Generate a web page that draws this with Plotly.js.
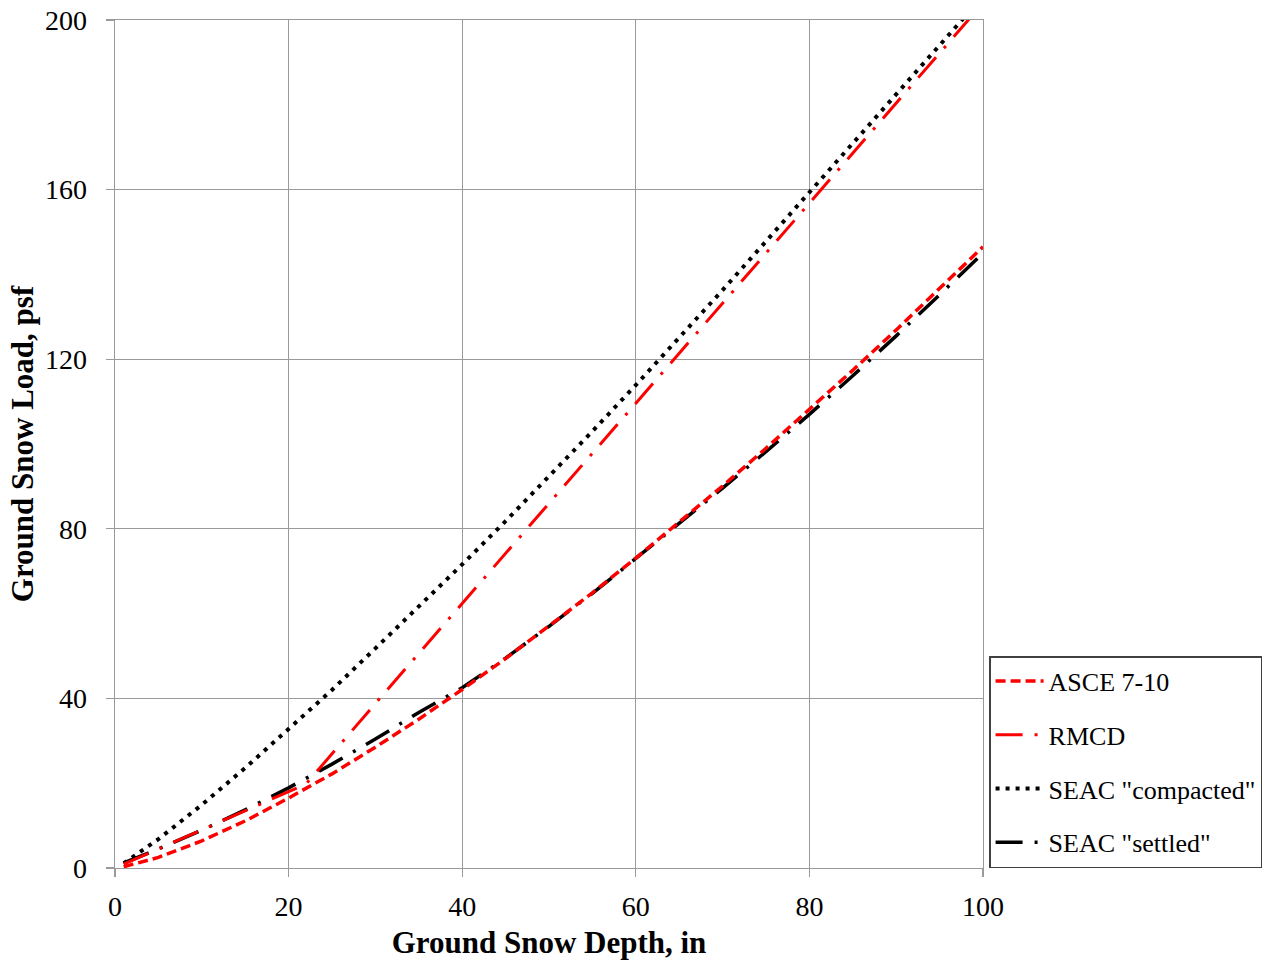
<!DOCTYPE html>
<html>
<head>
<meta charset="utf-8">
<script src="https://cdn.plot.ly/plotly-3.0.1.min.js"></script>
<style>html,body{margin:0;padding:0;background:#fff;}#chart{width:1262px;height:960px;}</style>
</head>
<body>
<div id="chart"></div>
<script>
// Ground snow depth (in) vs ground snow load (psf)
const asceDepth = [1, 5, 10, 15, 20, 25, 30, 35, 40, 45, 50, 55, 60, 65, 70, 75, 80, 85, 90, 95, 100];
const asceLoad  = [0.3, 2.5, 6.4, 11.1, 16.5, 22.2, 28.5, 35.1, 42.1, 49.4, 57.1, 64.9, 73.1, 81.5, 90.1, 99.0, 108.1, 117.4, 126.9, 136.6, 146.5];

const rmcdDepth = [1, 10, 22, 30, 40, 50, 60, 70, 80, 90, 100];
const rmcdLoad  = [0.9, 9.0, 19.8, 38.8, 62.4, 86.0, 109.6, 133.2, 156.8, 180.4, 204.0];

const compactedDepth = [1, 5, 10, 15, 20, 25, 30, 35, 40, 45, 50, 55, 60, 65, 70, 75, 80, 85, 90, 95, 100];
const compactedLoad  = [1.1, 6.8, 14.9, 23.6, 32.8, 42.0, 51.8, 61.6, 71.6, 81.8, 92.3, 103.0, 113.9, 125.0, 136.3, 147.8, 159.3, 170.9, 182.4, 193.9, 205.6];

const settledDepth = [1, 5, 10, 15, 20, 25, 30, 35, 40, 45, 50, 55, 60, 65, 70, 75, 80, 85, 90, 95, 100];
const settledLoad  = [1.2, 4.5, 8.9, 13.7, 18.9, 24.5, 30.4, 36.7, 42.5, 49.5, 57.0, 64.8, 73.0, 81.2, 89.6, 98.2, 107.0, 116.1, 125.5, 135.2, 145.0];

const seriesNames = ['ASCE 7-10', 'RMCD', 'SEAC "compacted"', 'SEAC "settled"'];
const xTicks = [0, 20, 40, 60, 80, 100];
const yTicks = [0, 40, 80, 120, 160, 200];

const serif = 'Liberation Serif, Times New Roman, serif';
const gridColor = '#9a9a9a';

const traces = [
  {x: settledDepth, y: settledLoad, name: seriesNames[3], legendrank: 4, legendgroup: 'd',
   mode: 'lines', line: {color: '#000000', width: 3.5, dash: '27px,12px,3px,12px'}},
  {x: compactedDepth, y: compactedLoad, name: seriesNames[2], legendrank: 3, legendgroup: 'c',
   mode: 'lines', line: {color: '#000000', width: 4, dash: '4px,6px'}},
  {x: rmcdDepth, y: rmcdLoad, name: seriesNames[1], legendrank: 2, legendgroup: 'b',
   mode: 'lines', line: {color: '#ff0000', width: 3, dash: '27px,12px,3px,12px'}},
  {x: asceDepth, y: asceLoad, name: seriesNames[0], legendrank: 1, legendgroup: 'a',
   mode: 'lines', line: {color: '#ff0000', width: 3.5, dash: '10px,5px'}}
];

const layout = {
  width: 1262, height: 960,
  paper_bgcolor: '#ffffff', plot_bgcolor: '#ffffff',
  margin: {l: 115, r: 279, t: 20, b: 92, autoexpand: false},
  font: {family: serif, color: '#000000', size: 26},
  showlegend: true,
  legend: {
    x: 1.007, xanchor: 'left', y: 0, yanchor: 'bottom',
    bordercolor: '#404040', borderwidth: 1.5, bgcolor: '#ffffff',
    font: {family: serif, size: 26, color: '#000000'},
    tracegroupgap: 17, traceorder: 'grouped', itemwidth: 48
  },
  xaxis: {
    range: [0, 100], tickvals: xTicks, ticktext: xTicks.map(String),
    showgrid: true, gridcolor: gridColor, gridwidth: 1.3,
    showline: true, linecolor: gridColor, linewidth: 1.3, mirror: true,
    zeroline: false, ticks: 'outside', ticklen: 8, tickcolor: gridColor, tickwidth: 1.3,
    tickfont: {family: serif, size: 28, color: '#000000'}, ticklabelstandoff: 5,
    title: {text: '<b>Ground Snow Depth, in</b>', font: {family: serif, size: 31, color: '#000000'}, standoff: 12},
    automargin: false
  },
  yaxis: {
    range: [0, 200], tickvals: yTicks, ticktext: yTicks.map(String),
    showgrid: true, gridcolor: gridColor, gridwidth: 1.3,
    showline: true, linecolor: gridColor, linewidth: 1.3, mirror: true,
    zeroline: false, ticks: 'outside', ticklen: 8, tickcolor: gridColor, tickwidth: 1.3,
    tickfont: {family: serif, size: 28, color: '#000000'}, ticklabelstandoff: 13,
    title: {text: '<b>Ground Snow Load, psf</b>', font: {family: serif, size: 31, color: '#000000'}, standoff: 2},
    automargin: false
  }
};

Plotly.newPlot('chart', traces, layout, {displayModeBar: false, staticPlot: true});
</script>
</body>
</html>
